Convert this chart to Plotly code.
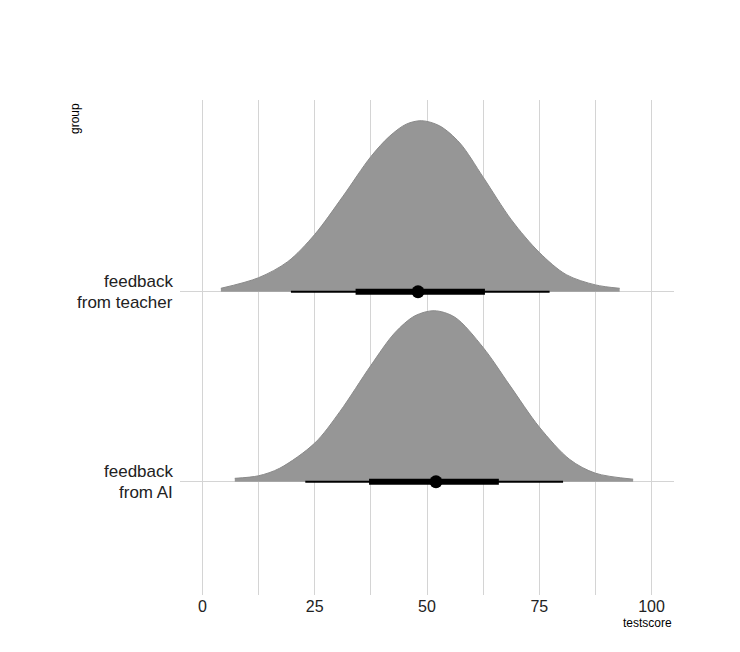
import plotly.graph_objects as go

# categories (y position 1 = bottom)
groups = ["feedback\nfrom AI", "feedback\nfrom teacher"]
group_pos = [1, 2]

# density curves (relative height, peak = 1)
teacher_x = [4.1, 12.5, 19.0, 25.0, 31.2, 37.5, 41.7, 45.4, 48.8, 52.8, 57.3, 62.5, 68.8, 75.0, 81.0, 87.5, 92.9]
teacher_d = [0.02, 0.082, 0.176, 0.335, 0.555, 0.79, 0.91, 0.98, 1.0, 0.97, 0.87, 0.67, 0.42, 0.23, 0.10, 0.04, 0.02]

ai_x = [7.2, 12.5, 17.2, 25.0, 30.6, 37.5, 42.8, 47.3, 51.6, 56.2, 62.5, 68.4, 75.0, 81.8, 87.5, 95.9]
ai_d = [0.02, 0.035, 0.079, 0.226, 0.41, 0.68, 0.87, 0.97, 1.0, 0.962, 0.785, 0.565, 0.32, 0.13, 0.05, 0.015]

# point estimate and intervals (66% thick, 95% thin)
point = [52.0, 48.0]
thin_lo = [22.9, 19.7]
thin_hi = [80.3, 77.3]
thick_lo = [37.1, 34.1]
thick_hi = [66.0, 62.9]

x_ticks = [0, 25, 50, 75, 100]

SLAB_SCALE = 0.9
FONT = "Liberation Sans, Arial, sans-serif"
GRID = "#d4d4d4"

fig = go.Figure()

for pos, xs, ds in [(1, ai_x, ai_d), (2, teacher_x, teacher_d)]:
    # baseline to fill against
    fig.add_trace(go.Scatter(
        x=[xs[0], xs[-1]], y=[pos, pos], mode="lines",
        line=dict(width=0, color="rgba(0,0,0,0)"),
        showlegend=False, hoverinfo="skip",
    ))
    fig.add_trace(go.Scatter(
        x=xs, y=[pos + d * SLAB_SCALE for d in ds], mode="lines",
        line=dict(color="#8a8a8a", width=1, shape="spline", smoothing=0.9),
        fill="tonexty", fillcolor="#969696",
        showlegend=False,
    ))

for i, pos in enumerate(group_pos):
    fig.add_trace(go.Scatter(
        x=[thin_lo[i], thin_hi[i]], y=[pos, pos], mode="lines",
        line=dict(color="black", width=2), showlegend=False,
    ))
    fig.add_trace(go.Scatter(
        x=[thick_lo[i], thick_hi[i]], y=[pos, pos], mode="lines",
        line=dict(color="black", width=6), showlegend=False,
    ))
fig.add_trace(go.Scatter(
    x=point, y=group_pos, mode="markers",
    marker=dict(color="black", size=13), showlegend=False,
))

# category labels, one annotation per line so the spacing stays tight
for pos, label in zip(group_pos, groups):
    lines = label.split("\n")
    for j, line in enumerate(lines):
        fig.add_annotation(
            text=line, xref="paper", yref="y", x=0, y=pos,
            xanchor="right", yanchor="middle", xshift=-5,
            yshift=(len(lines) - 1) * 10.3 - j * 20.6,
            showarrow=False, font=dict(size=17, color="#222222", family=FONT),
        )

fig.add_annotation(
    text="group", xref="paper", yref="paper", x=-0.2126, y=0.9636,
    xanchor="center", yanchor="middle", textangle=-90, showarrow=False,
    font=dict(size=12, color="black", family=FONT),
)
fig.add_annotation(
    text="testscore", xref="paper", yref="paper", x=1, y=-0.056,
    xanchor="right", yanchor="middle", showarrow=False,
    font=dict(size=12, color="black", family=FONT),
)

# page body has an 8px margin, so the figure is 8px smaller each way
fig.update_layout(
    width=732, height=644,
    margin=dict(l=172, r=66, t=92, b=57),
    plot_bgcolor="white", paper_bgcolor="white",
    font=dict(family=FONT),
    xaxis=dict(
        range=[-5, 105], tickvals=x_ticks, showgrid=True, gridcolor=GRID, gridwidth=1,
        minor=dict(dtick=12.5, tick0=0, showgrid=True, gridcolor=GRID, gridwidth=1),
        zeroline=False, showline=False, ticks="",
        tickfont=dict(size=16, color="#222222"),
    ),
    yaxis=dict(
        range=[0.404, 3.009], tickvals=group_pos, showticklabels=False,
        showgrid=True, gridcolor=GRID, gridwidth=1, zeroline=False, showline=False,
    ),
)

fig.write_html("out.html")
